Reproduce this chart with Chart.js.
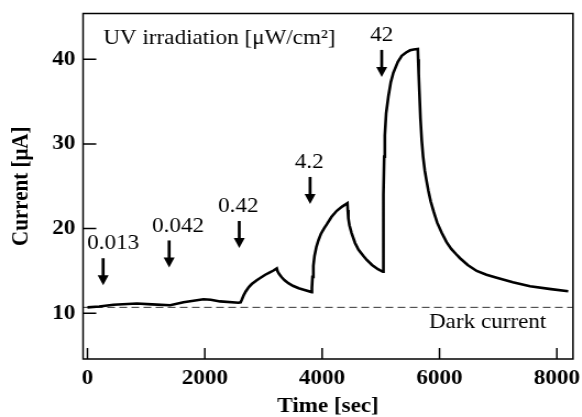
<!DOCTYPE html>
<html>
<head>
<meta charset="utf-8">
<script src="https://cdn.jsdelivr.net/npm/chart.js@4.4.1/dist/chart.umd.min.js"></script>
<style>
  html, body { margin: 0; padding: 0; background: #fff; }
  /* the figure is a little wider than tall in its glyphs, so stretch it sideways */
  #wrap { width: 529px; height: 417px; transform: scale(1.1, 1); transform-origin: 0 0; }
</style>
</head>
<body>
<div id="wrap"><canvas id="myChart"></canvas></div>
<script>
// photocurrent trace, time [sec] vs current [uA]
var timeSec = [
    0, 200, 443, 842, 1100, 1409, 1636, 1977, 2100, 2261, 2574, 2610,
    2630, 2660, 2700, 2750, 2800, 2885, 2950, 3030, 3100, 3170, 3226,
    3240, 3270, 3310, 3360, 3424, 3500, 3600, 3700, 3823,
    3825, 3835, 3850, 3870, 3900, 3935, 3980, 4030, 4078, 4160, 4249, 4340, 4430,
    4436, 4446, 4465, 4500, 4560, 4620, 4700, 4760, 4850, 4950, 5035,
    5040, 5048, 5057, 5068, 5090, 5128, 5170, 5213, 5290, 5356, 5430, 5497, 5560, 5630,
    5636, 5645, 5656, 5675, 5697, 5720, 5750, 5780, 5809, 5850, 5900, 5960, 6037,
    6120, 6200, 6280, 6350, 6480, 6634, 6800, 6975, 7250, 7542, 7900, 8194
];
var currentUA = [
    10.7, 10.8, 11.0, 11.15, 11.05, 10.95, 11.3, 11.65, 11.6, 11.4, 11.25, 11.3,
    11.6, 12.1, 12.6, 13.1, 13.45, 13.9, 14.2, 14.55, 14.8, 15.05, 15.3,
    14.95, 14.6, 14.25, 13.9, 13.55, 13.25, 12.95, 12.75, 12.5,
    13.0, 14.3, 15.6, 16.8, 17.8, 18.6, 19.4, 20.0, 20.5, 21.4, 22.1, 22.6, 23.0,
    22.2, 21.2, 20.4, 19.5, 18.3, 17.5, 16.8, 16.3, 15.7, 15.2, 14.9,
    17.0, 24.0, 28.5, 31.0, 33.6, 35.6, 37.3, 38.4, 39.7, 40.4, 40.8, 41.05, 41.15, 41.2,
    40.0, 38.3, 36.3, 33.0, 30.4, 28.5, 26.8, 25.6, 24.5, 23.2, 22.0, 20.7, 19.5,
    18.4, 17.6, 17.0, 16.5, 15.7, 15.0, 14.55, 14.2, 13.65, 13.2, 12.85, 12.6
];
var darkCurrent = 10.7;

// UV irradiation steps [uW/cm2]
var doseLabels = ['0.013', '0.042', '0.42', '4.2', '42'];
var doseTimes = [267, 1392, 2587, 3794, 5015];
var doseLabelTimes = [440, 1545, 2570, 3780, 5015];
var arrowTop = [16.5, 18.6, 20.9, 26.1, 41.1];

var xTicks = [0, 2000, 4000, 6000, 8000];
var yTicks = [10, 20, 30, 40];

var serif = "'Liberation Serif', 'Times New Roman', serif";

var trace = timeSec.map(function(t, i) { return {x: t, y: currentUA[i]}; });
var dark = [{x: -75, y: darkCurrent}, {x: 8275, y: darkCurrent}];

// no extra room for half tick labels, the frame sets the plot size
function noPadding(scale) {
    scale.paddingTop = 0;
    scale.paddingBottom = 0;
    scale.paddingLeft = 0;
    scale.paddingRight = 0;
}

var annotate = {
    id: 'annotate',
    afterDatasetsDraw: function(chart) {
        var ctx = chart.ctx, a = chart.chartArea;
        var x = chart.scales.x, y = chart.scales.y;
        ctx.save();
        ctx.strokeStyle = '#000';
        ctx.fillStyle = '#000';

        // frame
        ctx.lineWidth = 1.5;
        ctx.strokeRect(a.left, a.top, a.right - a.left, a.bottom - a.top);

        // ticks point inward
        ctx.beginPath();
        x.ticks.forEach(function(t) {
            var px = x.getPixelForValue(t.value);
            ctx.moveTo(px, a.bottom);
            ctx.lineTo(px, a.bottom - 11);
        });
        y.ticks.forEach(function(t) {
            var py = y.getPixelForValue(t.value);
            ctx.moveTo(a.left, py);
            ctx.lineTo(a.left + 12, py);
        });
        ctx.stroke();

        // arrows with irradiation values
        ctx.font = '21px ' + serif;
        ctx.textAlign = 'center';
        ctx.textBaseline = 'middle';
        doseTimes.forEach(function(t, i) {
            var px = x.getPixelForValue(t);
            var top = y.getPixelForValue(arrowTop[i]);
            var tip = y.getPixelForValue(arrowTop[i] - 3.2);
            ctx.lineWidth = 2.7;
            ctx.beginPath();
            ctx.moveTo(px, top);
            ctx.lineTo(px, tip - 8);
            ctx.stroke();
            ctx.beginPath();
            ctx.moveTo(px - 5, tip - 10);
            ctx.lineTo(px + 5, tip - 10);
            ctx.lineTo(px, tip);
            ctx.closePath();
            ctx.fill();
            ctx.fillText(doseLabels[i], x.getPixelForValue(doseLabelTimes[i]), y.getPixelForValue(arrowTop[i] + 1.7));
        });

        ctx.textAlign = 'left';
        ctx.fillText('UV irradiation [\u03bcW/cm\u00b2]', x.getPixelForValue(270), y.getPixelForValue(42.5));
        ctx.fillText('Dark current', x.getPixelForValue(5820), y.getPixelForValue(8.86));
        ctx.restore();
    }
};

var config = {
    type: 'line',
    data: {
        datasets: [{
            data: trace,
            borderColor: '#000',
            borderWidth: 2.6,
            pointRadius: 0,
            tension: 0,
            fill: false
        }, {
            data: dark,
            borderColor: '#333',
            borderWidth: 1,
            borderDash: [7, 4],
            pointRadius: 0,
            fill: false
        }]
    },
    options: {
        responsive: true,
        maintainAspectRatio: false,
        animation: false,
        layout: {
            padding: {top: 13.5, right: 8.1, bottom: 0, left: 0}
        },
        plugins: {
            legend: {display: false},
            tooltip: {enabled: false}
        },
        scales: {
            x: {
                type: 'linear',
                min: -75,
                max: 8275,
                grid: {display: false, drawTicks: false},
                border: {display: false},
                ticks: {
                    color: '#000',
                    padding: 7,
                    maxRotation: 0,
                    font: {family: serif, size: 21, weight: 'bold'},
                    callback: function(v) { return String(v); }
                },
                afterBuildTicks: function(scale) {
                    scale.ticks = xTicks.map(function(v) { return {value: v}; });
                },
                afterFit: function(scale) {
                    scale.height = 58;
                    noPadding(scale);
                },
                title: {
                    display: true,
                    text: 'Time [sec]',
                    color: '#000',
                    padding: {top: 0, bottom: 0},
                    font: {family: serif, size: 21, weight: 'bold', lineHeight: 1}
                }
            },
            y: {
                min: 4.6,
                max: 45.4,
                grid: {display: false, drawTicks: false},
                border: {display: false},
                ticks: {
                    color: '#000',
                    padding: 7,
                    font: {family: serif, size: 21, weight: 'bold'},
                    callback: function(v) { return String(v); }
                },
                afterBuildTicks: function(scale) {
                    scale.ticks = yTicks.map(function(v) { return {value: v}; });
                },
                afterFit: function(scale) {
                    scale.width = 75.5;
                    noPadding(scale);
                },
                title: {
                    display: true,
                    text: 'Current [\u03bcA]',
                    color: '#000',
                    padding: {top: 7, bottom: 0},
                    font: {family: serif, size: 21, weight: 'bold'}
                }
            }
        }
    },
    plugins: [annotate]
};

window.onload = function() {
    var ctx = document.getElementById('myChart').getContext('2d');
    window.myLine = new Chart(ctx, config);
};
</script>
</body>
</html>
